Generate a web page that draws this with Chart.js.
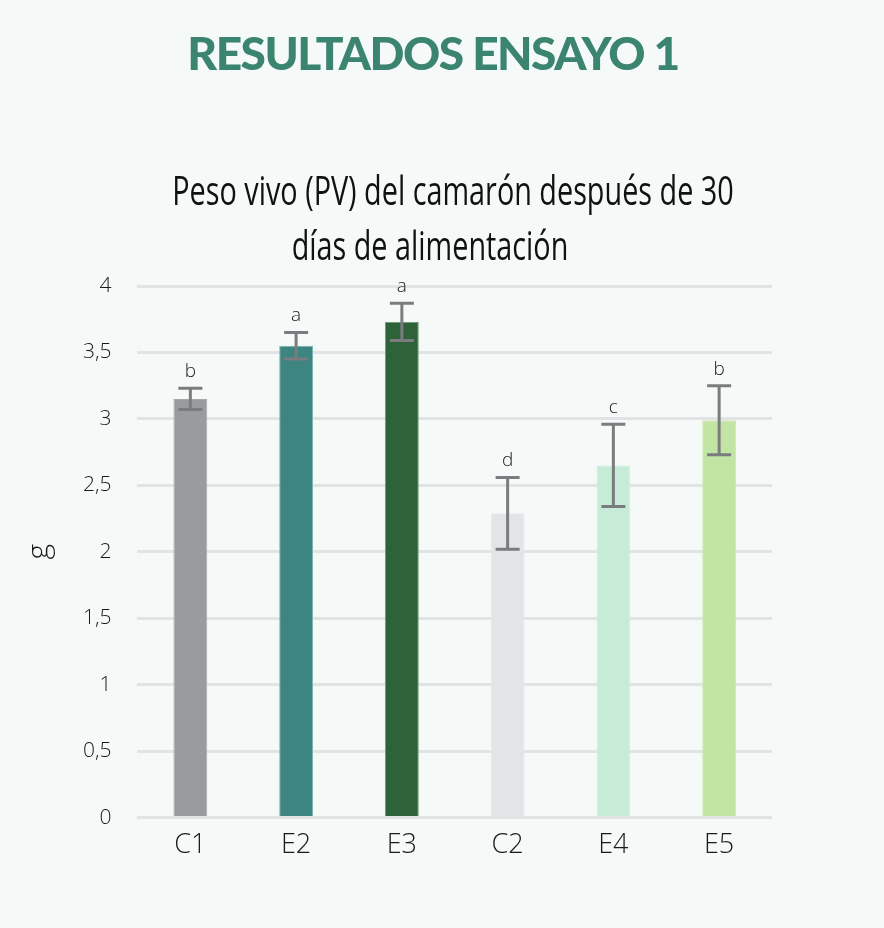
<!DOCTYPE html>
<html>
<head>
<meta charset="utf-8">
<script src="https://cdn.jsdelivr.net/npm/chart.js@4.4.1/dist/chart.umd.min.js"></script>
<style>
  html, body { margin: 0; padding: 0; background: #f5f9f8; }
  #wrap { position: relative; width: 884px; height: 928px; }
  #head {
    position: absolute; left: 0; top: 25px; width: 866px; text-align: center;
    font-family: Lato, "Open Sans", sans-serif; font-weight: 900; font-size: 46px;
    color: #3a8470; letter-spacing: -1.5px;
  }
  .sub {
    position: absolute; white-space: nowrap; color: #111;
    font-family: "Open Sans", sans-serif; font-size: 40px; line-height: 40px;
    transform-origin: center center;
  }
  #cv { position: absolute; left: 0; top: 0; }
</style>
</head>
<body>
<div id="wrap">
  <canvas id="cv" width="884" height="928"></canvas>
  <div id="head">RESULTADOS ENSAYO 1</div>
  <div class="sub" id="t1" style="left:0; width:906px; text-align:center; top:170px; transform: scaleX(0.72);">Peso vivo (PV) del camarón después de 30</div>
  <div class="sub" id="t2" style="left:0; width:860px; text-align:center; top:225px; transform: scaleX(0.72);">días de alimentación</div>
</div>
<script>
// datos
    const categorias = ["C1", "E2", "E3", "C2", "E4", "E5"];
    const pesos = [3.15, 3.55, 3.73, 2.29, 2.65, 2.99];
    const errores = [0.08, 0.10, 0.14, 0.27, 0.31, 0.26];
    const letras = ["b", "a", "a", "d", "c", "b"];
    const colores = ["#9a9b9f", "#3d8580", "#2e6238", "#e3e4e6", "#c6ebd6", "#c3e5a4"];
    const bordes = ["#a6a7ab", "#7bb5b0", "#6f9c79", "#e6e7e9", "#d4f1e0", "#cdeab2"];

// barras de error + letras
    const errorBars = {
        id: "errorBars",
        afterDatasetsDraw(chart) {
            const c = chart.ctx;
            const y = chart.scales.y;
            const meta = chart.getDatasetMeta(0);
            c.save();
            c.strokeStyle = "#7b7c7f";
            c.lineWidth = 3;
            meta.data.forEach((bar, i) => {
                const x = bar.x;
                const top = y.getPixelForValue(pesos[i] + errores[i]);
                const bot = y.getPixelForValue(pesos[i] - errores[i]);
                c.beginPath();
                c.moveTo(x, top); c.lineTo(x, bot);
                c.moveTo(x - 12, top); c.lineTo(x + 12, top);
                c.moveTo(x - 12, bot); c.lineTo(x + 12, bot);
                c.stroke();
                c.fillStyle = "#1a1a1a";
                c.font = "300 19px 'Open Sans', sans-serif";
                c.textAlign = "center";
                c.textBaseline = "bottom";
                c.fillText(letras[i], x, top - 7);
            });
            c.restore();
        }
    };

    const ctx = document.getElementById("cv").getContext("2d");
    const chart = new Chart(ctx, {
        type: "bar",
        data: {
            labels: categorias,
            datasets: [{
                data: pesos,
                backgroundColor: colores,
                borderColor: bordes,
                borderWidth: 1,
                categoryPercentage: 1,
                barPercentage: 0.32
            }]
        },
        options: {
            responsive: false,
            animation: false,
            layout: { padding: { top: 286, right: 112, bottom: 54, left: 0 } },
            plugins: {
                legend: { display: false },
                tooltip: { enabled: false }
            },
            scales: {
                x: {
                    grid: { display: false, drawTicks: false },
                    border: { display: false },
                    ticks: { color: "#1a1a1a", font: { family: "'Open Sans', sans-serif", size: 27, weight: 300 }, padding: 12 }
                },
                y: {
                    min: 0, max: 4,
                    ticks: {
                        stepSize: 0.5,
                        color: "#1a1a1a",
                        padding: 26,
                        font: { family: "'Open Sans', sans-serif", size: 21, weight: 300 },
                        callback: v => String(v).replace(".", ",")
                    },
                    grid: { color: "#e2e3e5", lineWidth: 3, drawTicks: false },
                    border: { display: false },
                    title: {
                        display: true, text: "g", color: "#1a1a1a",
                        font: { family: "'Open Sans', sans-serif", size: 30, weight: 300 },
                        padding: { top: 21, bottom: 0 }
                    }
                }
            }
        },
        plugins: [errorBars]
    });
</script>
</body>
</html>
